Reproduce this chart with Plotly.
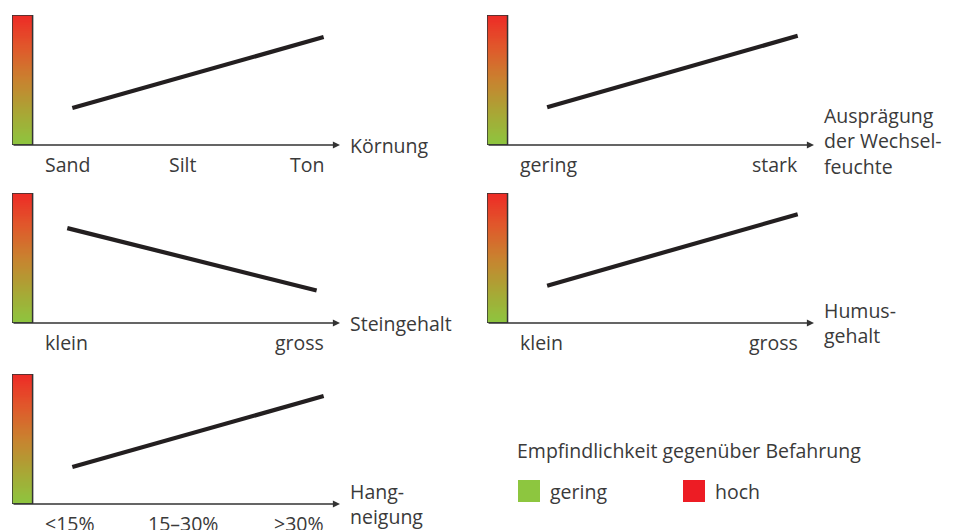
import plotly.graph_objects as go
import numpy as np

# ---------------- data ----------------
panel_titles = ["Körnung", "Ausprägung<br>der Wechsel-<br>feuchte", "Steingehalt",
                "Humus-<br>gehalt", "Hang-<br>neigung"]
panel_categories = [["Sand", "Silt", "Ton"],
                    ["gering", "stark"],
                    ["klein", "gross"],
                    ["klein", "gross"],
                    ["<15%", "15–30%", ">30%"]]
# sensitivity (0 = gering, 1 = hoch) at the low / high end of each factor
line_x = [[0.0, 1.0], [0.0, 1.0], [-0.02, 0.972], [0.0, 1.0], [0.0, 1.0]]
sensitivity = [[0.285, 0.83], [0.29, 0.84], [0.73, 0.25], [0.287, 0.837], [0.285, 0.83]]
legend_title = "Empfindlichkeit gegenüber Befahrung"
legend_labels = ["gering", "hoch"]
legend_colors = ["#8dc63f", "#ed1c24"]
gradient_colors = ["#8dc63f", "#a9a635", "#c9822f", "#e0582b", "#ee2a26"]

# ---------------- layout constants ----------------
OFF = 8                     # page body margin
W, H = 957 - OFF, 530 - OFF
FONT = "Open Sans"
FS = 19.5
TXT = "#3a3a3a"
XR = [-0.24, 1.065]
BAR = [-0.24, -0.158]


def px(p):
    return (p - OFF) / W


def py(p):
    return 1 - (p - OFF) / H


col_dom = [[px(12), px(340)], [px(487), px(814)]]
row_pix = [(15, 145), (193, 323), (374, 504)]
row_dom = [[py(b), py(t)] for t, b in row_pix]
cells = [(0, 0), (0, 1), (1, 0), (1, 1), (2, 0)]

fig = go.Figure()
annotations = []
shapes = []
levels = np.linspace(0, 1, 121)
cs = [[i / (len(gradient_colors) - 1), c] for i, c in enumerate(gradient_colors)]

for i, (r, c) in enumerate(cells):
    n = i + 1
    xa = "x" if n == 1 else f"x{n}"
    ya = "y" if n == 1 else f"y{n}"
    fig.update_layout(**{
        ("xaxis" if n == 1 else f"xaxis{n}"): dict(domain=col_dom[c], range=XR, visible=False,
                                                    anchor=ya, fixedrange=True),
        ("yaxis" if n == 1 else f"yaxis{n}"): dict(domain=row_dom[r], range=[0, 1], visible=False,
                                                    anchor=xa, fixedrange=True),
    })
    # gradient bar
    zc = (levels[:-1] + levels[1:]) / 2
    fig.add_trace(go.Heatmap(x=BAR, y=levels, z=[[v] for v in zc], colorscale=cs,
                             zmin=0, zmax=1, showscale=False, hoverinfo="skip",
                             xaxis=xa, yaxis=ya))
    shapes.append(dict(type="rect", xref=xa, yref=ya, x0=BAR[0], x1=BAR[1], y0=0, y1=1,
                       line=dict(color="#333333", width=1.5)))
    # sensitivity line
    fig.add_trace(go.Scatter(x=line_x[i], y=sensitivity[i], mode="lines",
                             line=dict(color="#231f20", width=4.2), hoverinfo="skip",
                             showlegend=False, xaxis=xa, yaxis=ya))
    # x axis with arrow
    annotations.append(dict(x=XR[1], y=0, ax=XR[0], ay=0, xref=xa, yref=ya, axref=xa, ayref=ya,
                            showarrow=True, arrowhead=2, arrowsize=1.1, arrowwidth=1.3,
                            arrowcolor="#333333", text=""))
    # axis title
    annotations.append(dict(x=XR[1], y=0, xref=xa, yref=ya, text=panel_titles[i],
                            showarrow=False, xanchor="left", yanchor="middle", align="left",
                            xshift=8, yshift=4 if n == 2 else 0,
                            font=dict(family=FONT, size=FS, color=TXT)))
    # category labels
    cats = panel_categories[i]
    k = len(cats)
    for j, cat in enumerate(cats):
        if j == 0:
            xx, anc, xs = BAR[1], "left", 10
        elif j == k - 1:
            xx, anc, xs = 1.0, "right", 2
        else:
            xx, anc, xs = 0.44, "center", 0
        annotations.append(dict(x=xx, y=0, xref=xa, yref=ya, text=cat, showarrow=False,
                                xanchor=anc, yanchor="middle", xshift=xs, yshift=-19,
                                font=dict(family=FONT, size=FS, color=TXT)))

# legend
annotations.append(dict(x=px(515), y=py(450), xref="paper", yref="paper", text=legend_title,
                        showarrow=False, xanchor="left", yanchor="middle",
                        font=dict(family=FONT, size=FS, color=TXT)))
leg_x = [518, 683]
for lab, col, lx in zip(legend_labels, legend_colors, leg_x):
    shapes.append(dict(type="rect", xref="paper", yref="paper", x0=px(lx), x1=px(lx + 22),
                       y0=py(502), y1=py(480), fillcolor=col, line=dict(width=0)))
    annotations.append(dict(x=px(lx + 30), y=py(491), xref="paper", yref="paper", text=lab,
                            showarrow=False, xanchor="left", yanchor="middle",
                            font=dict(family=FONT, size=FS, color=TXT)))

fig.update_layout(width=W, height=H, margin=dict(l=0, r=0, t=0, b=0),
                  paper_bgcolor="white", plot_bgcolor="rgba(0,0,0,0)",
                  showlegend=False, annotations=annotations, shapes=shapes,
                  font=dict(family=FONT, size=FS, color=TXT))
fig.write_html("out.html", config={"displayModeBar": False})
